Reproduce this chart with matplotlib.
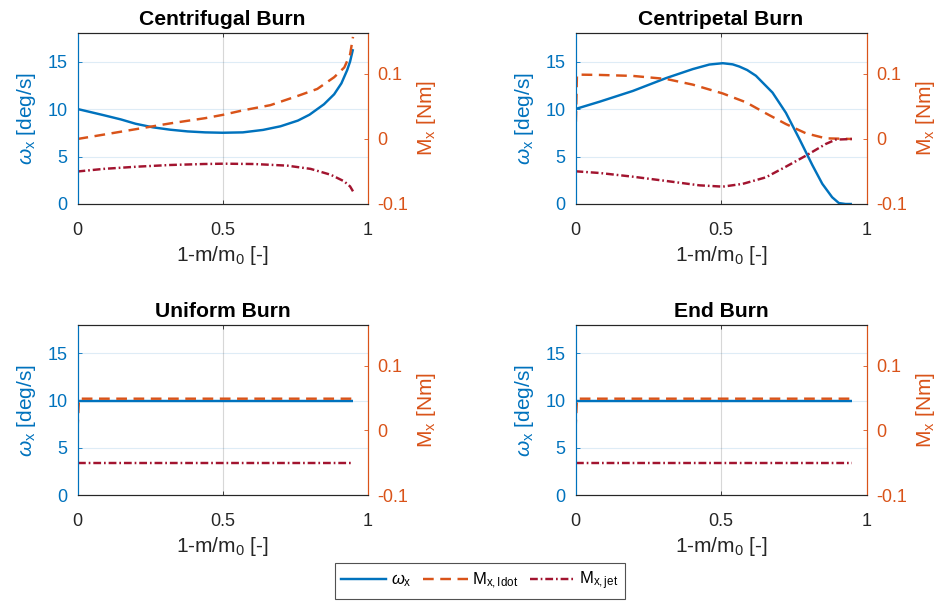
import matplotlib
matplotlib.use('Agg')
import matplotlib.pyplot as plt
from matplotlib.lines import Line2D

plt.rcParams['font.family'] = ['Liberation Sans', 'DejaVu Sans']
plt.rcParams['axes.unicode_minus'] = False
plt.rcParams['mathtext.fontset'] = 'custom'
plt.rcParams['mathtext.rm'] = 'Liberation Sans'
plt.rcParams['mathtext.it'] = 'Liberation Sans:italic'

titles = ['Centrifugal Burn', 'Centripetal Burn', 'Uniform Burn', 'End Burn']

# ---- Centrifugal burn ----
cf_w_x = [0, 0.09, 0.15, 0.2, 0.26, 0.32, 0.38, 0.44, 0.5, 0.57, 0.64, 0.7, 0.76, 0.8,
          0.85, 0.885, 0.91, 0.93, 0.94, 0.95]
cf_w = [10.0, 9.35, 8.9, 8.45, 8.07, 7.82, 7.64, 7.54, 7.5, 7.54, 7.8, 8.18, 8.78, 9.4,
        10.5, 11.55, 12.7, 14.1, 15.0, 16.3]
cf_idot_x = [0, 0.09, 0.2, 0.32, 0.44, 0.5, 0.57, 0.665, 0.758, 0.827, 0.885, 0.92, 0.94, 0.95]
cf_idot = [0, 0.0067, 0.015, 0.024, 0.032, 0.037, 0.044, 0.052, 0.066, 0.077, 0.095, 0.11,
           0.13, 0.157]
cf_jet_x = [0, 0.09, 0.205, 0.32, 0.435, 0.505, 0.608, 0.723, 0.804, 0.873, 0.919, 0.94, 0.95]
cf_jet = [-0.05, -0.046, -0.0426, -0.04, -0.0385, -0.038, -0.0385, -0.041, -0.046, -0.055,
          -0.065, -0.073, -0.0805]

# ---- Centripetal burn ----
cp_w_x = [0, 0.083, 0.197, 0.312, 0.403, 0.46, 0.506, 0.54, 0.563, 0.59, 0.62, 0.677, 0.723,
          0.768, 0.814, 0.848, 0.882, 0.905, 0.928, 0.95]
cp_w = [10.0, 10.77, 11.9, 13.26, 14.2, 14.68, 14.82, 14.7, 14.47, 14.1, 13.5, 11.73, 9.6,
        6.93, 4.09, 2.13, 0.71, 0.1, 0.0, 0.0]
cp_idot_x = [0, 0.005, 0.083, 0.197, 0.312, 0.403, 0.506, 0.586, 0.654, 0.723, 0.792, 0.86, 0.95]
cp_idot = [0, 0.099, 0.0985, 0.097, 0.0923, 0.0836, 0.070, 0.0564, 0.0395, 0.023, 0.0087,
           0.001, 0.0]
cp_jet_x = [0, 0.083, 0.197, 0.312, 0.426, 0.506, 0.575, 0.654, 0.723, 0.792, 0.86, 0.894, 0.95]
cp_jet = [-0.0497, -0.0523, -0.058, -0.0646, -0.0713, -0.0733, -0.069, -0.059, -0.0426,
          -0.0256, -0.0077, -0.001, 0.0]

# ---- Uniform burn ----
un_w_x = [0, 0.95]
un_w = [10.0, 10.0]
un_idot_x = [0, 0.005, 0.95]
un_idot = [0, 0.049, 0.049]
un_jet_x = [0, 0.95]
un_jet = [-0.05, -0.05]

# ---- End burn ----
en_w_x = [0, 0.95]
en_w = [10.0, 10.0]
en_idot_x = [0, 0.005, 0.95]
en_idot = [0, 0.049, 0.049]
en_jet_x = [0, 0.95]
en_jet = [-0.05, -0.05]

series = [
    (cf_w_x, cf_w, cf_idot_x, cf_idot, cf_jet_x, cf_jet),
    (cp_w_x, cp_w, cp_idot_x, cp_idot, cp_jet_x, cp_jet),
    (un_w_x, un_w, un_idot_x, un_idot, un_jet_x, un_jet),
    (en_w_x, en_w, en_idot_x, en_idot, en_jet_x, en_jet),
]

x_ticks = [0, 0.5, 1]
x_ticklabels = ['0', '0.5', '1']
w_ticks = [0, 5, 10, 15]
m_ticks = [-0.1, 0, 0.1]
m_ticklabels = ['-0.1', '0', '0.1']

BLUE = '#0072BD'
ORANGE = '#D95319'
RED = '#A2142F'
AXC = '#262626'

W, H = 946, 603
fig = plt.figure(figsize=(W / 100, H / 100), dpi=100)

positions = [
    (77.5, 33, 290, 171),
    (575.5, 33, 291, 171),
    (77.5, 325, 290, 170),
    (575.5, 325, 291, 170),
]

lw = 1.75
dash = (4.4, 2.7)
dashdot = (3.2, 1.2, 0.7, 1.2)

for i, (px, py, pw, ph) in enumerate(positions):
    ax = fig.add_axes([px / W, 1 - (py + ph) / H, pw / W, ph / H])
    ax2 = ax.twinx()
    wx, w, ix, iv, jx, jv = series[i]

    ax.plot(wx, w, color=BLUE, lw=lw, solid_capstyle='butt')
    ax2.plot(ix, iv, color=ORANGE, lw=lw, dashes=dash)
    ax2.plot(jx, jv, color=RED, lw=lw, dashes=dashdot)

    ax.set_xlim(0, 1)
    ax.set_ylim(0, 18)
    ax2.set_ylim(-0.1, 0.163)

    ax.set_xticks(x_ticks)
    ax.set_xticklabels(x_ticklabels)
    ax.set_yticks(w_ticks)
    ax2.set_yticks(m_ticks)
    ax2.set_yticklabels(m_ticklabels)

    # grid
    for yv in w_ticks[1:]:
        ax.axhline(yv, color=BLUE, alpha=0.13, lw=0.8, zorder=0)
    ax.axvline(0.5, color='#262626', alpha=0.18, lw=0.8, zorder=0)

    for a in (ax, ax2):
        a.spines['top'].set_color(AXC)
        a.spines['bottom'].set_color(AXC)
        a.spines['left'].set_color(BLUE)
        a.spines['right'].set_color(ORANGE)
        for s in a.spines.values():
            s.set_linewidth(0.8)

    ax.tick_params(axis='x', direction='in', length=3, top=True, colors=AXC,
                   labelsize=13, pad=13, width=0.6)
    ax.tick_params(axis='y', direction='in', length=3, colors=BLUE, labelcolor=BLUE,
                   labelsize=13, pad=7, width=0.6)
    ax2.tick_params(axis='y', direction='in', length=3, colors=ORANGE, labelcolor=ORANGE,
                    labelsize=13, pad=7, width=0.6)

    ax.set_title(titles[i], fontsize=15.2, fontweight='bold', pad=6, color='black')
    ax.set_xlabel(r'1-m/m$_{\rm 0}$ [-]', fontsize=15, color=AXC, labelpad=3.5)
    ax.set_ylabel(r'$\omega_{\rm x}$ [deg/s]', fontsize=15, color=BLUE, labelpad=7)
    ax2.set_ylabel(r'M$_{\rm x}$ [Nm]', fontsize=15, color=ORANGE, labelpad=5)

handles = [
    Line2D([], [], color=BLUE, lw=lw),
    Line2D([], [], color=ORANGE, lw=lw, dashes=dash),
    Line2D([], [], color=RED, lw=lw, dashes=dashdot),
]
labels = [r'$\omega_{\rm x}$', r'M$_{\rm x,Idot}$', r'M$_{\rm x,jet}$']
leg = fig.legend(handles, labels, loc='center', bbox_to_anchor=(480 / W, 1 - 581 / H),
                 ncol=3, fontsize=12, frameon=True, fancybox=False, handlelength=2.7,
                 handletextpad=0.25, columnspacing=0.7, borderpad=0.4)
leg.get_frame().set_edgecolor('#262626')
leg.get_frame().set_linewidth(0.8)

fig.savefig('out.png', dpi=100)
